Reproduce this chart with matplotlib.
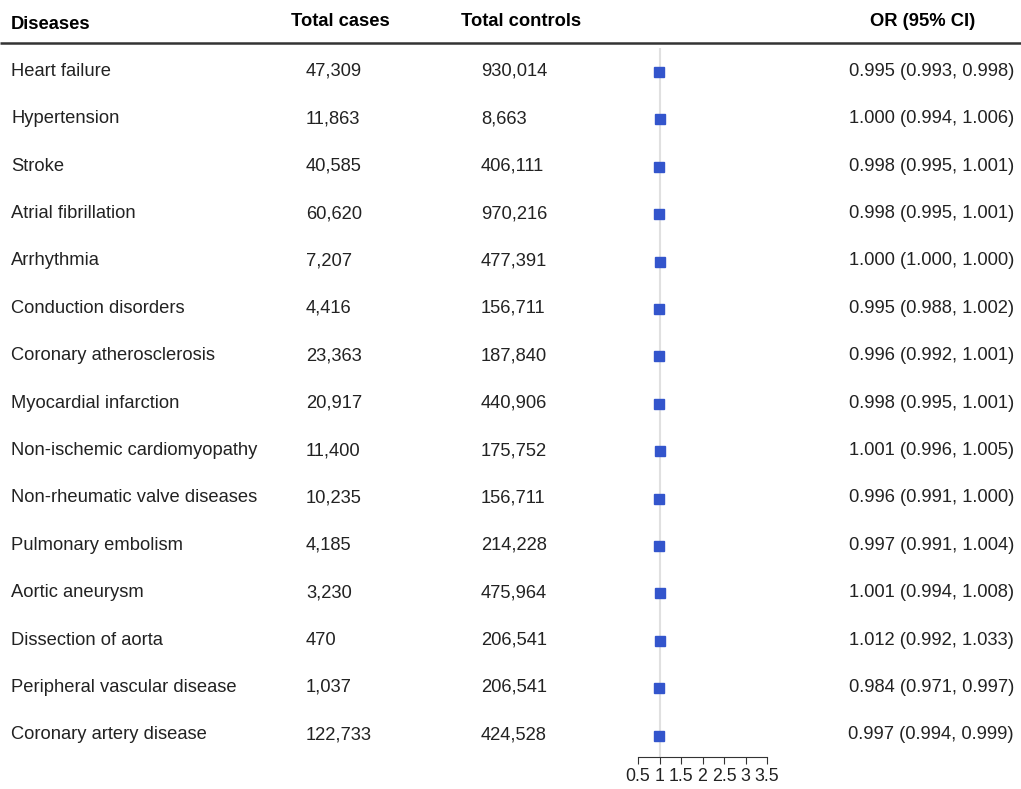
import matplotlib
matplotlib.use("Agg")
import matplotlib.pyplot as plt

diseases = [
    "Heart failure", "Hypertension", "Stroke", "Atrial fibrillation",
    "Arrhythmia", "Conduction disorders", "Coronary atherosclerosis",
    "Myocardial infarction", "Non-ischemic cardiomyopathy",
    "Non-rheumatic valve diseases", "Pulmonary embolism", "Aortic aneurysm",
    "Dissection of aorta", "Peripheral vascular disease", "Coronary artery disease",
]
cases = [47309, 11863, 40585, 60620, 7207, 4416, 23363, 20917, 11400,
         10235, 4185, 3230, 470, 1037, 122733]
controls = [930014, 8663, 406111, 970216, 477391, 156711, 187840, 440906,
            175752, 156711, 214228, 475964, 206541, 206541, 424528]
or_est = [0.995, 1.000, 0.998, 0.998, 1.000, 0.995, 0.996, 0.998, 1.001,
          0.996, 0.997, 1.001, 1.012, 0.984, 0.997]
or_lo = [0.993, 0.994, 0.995, 0.995, 1.000, 0.988, 0.992, 0.995, 0.996,
         0.991, 0.991, 0.994, 0.992, 0.971, 0.994]
or_hi = [0.998, 1.006, 1.001, 1.001, 1.000, 1.002, 1.001, 1.001, 1.005,
         1.000, 1.004, 1.008, 1.033, 0.997, 0.999]
xticks = [0.5, 1, 1.5, 2, 2.5, 3, 3.5]

W, H = 1021, 789
fig = plt.figure(figsize=(W / 100, H / 100), dpi=100)
plt.rcParams["font.family"] = ["Liberation Sans", "DejaVu Sans"]

# text layer in pixel coordinates
tx = fig.add_axes([0, 0, 1, 1])
tx.set_xlim(0, W)
tx.set_ylim(H, 0)
tx.axis("off")

fs = 13.2
txt = "#222222"
tx.text(11, 24, "Diseases", fontsize=fs, fontweight="bold", va="center", color="black")
tx.text(291, 21, "Total cases", fontsize=fs, fontweight="bold", va="center", color="black")
tx.text(461, 21, "Total controls", fontsize=fs, fontweight="bold", va="center", color="black")
tx.text(975, 21, "OR (95% CI)", fontsize=fs, fontweight="bold", va="center", ha="right",
        color="black")
tx.plot([0, W], [43, 43], color="#333333", lw=1.8, solid_capstyle="butt")

row0, step = 71.3, 47.4
for i, name in enumerate(diseases):
    y = row0 + step * i
    tx.text(11, y, name, fontsize=fs, va="center", color=txt)
    tx.text(306, y, f"{cases[i]:,}", fontsize=fs, va="center", color=txt)
    tx.text(481, y, f"{controls[i]:,}", fontsize=fs, va="center", color=txt)
    tx.text(1014, y, f"{or_est[i]:.3f} ({or_lo[i]:.3f}, {or_hi[i]:.3f})",
            fontsize=fs, va="center", ha="right", color=txt)

# forest panel
x0, x1 = 638, 767
top, bot = 48, 757
ax = fig.add_axes([x0 / W, 1 - bot / H, (x1 - x0) / W, (bot - top) / H])
ax.patch.set_alpha(0)
ax.set_xlim(0.5, 3.5)
i_top = (top - 72) / step
i_bot = (bot - 72) / step
ax.set_ylim(i_bot, i_top)
ax.axvline(1, color="#e0e0e0", lw=1.5, zorder=0)
rows = list(range(len(diseases)))
ax.hlines(rows, or_lo, or_hi, color="#3355cc", lw=1)
ax.plot(or_est, rows, "s", color="#3355cc", ms=7.5, mec="#3355cc")
for s in ["top", "right", "left"]:
    ax.spines[s].set_visible(False)
ax.spines["bottom"].set_color("#333333")
ax.set_yticks([])
ax.set_xticks(xticks)
ax.set_xticklabels(["0.5", "1", "1.5", "2", "2.5", "3", "3.5"])
ax.tick_params(axis="x", length=5, color="#333333", labelsize=12.8, labelcolor=txt, pad=3)

fig.savefig("out.png", dpi=100)
